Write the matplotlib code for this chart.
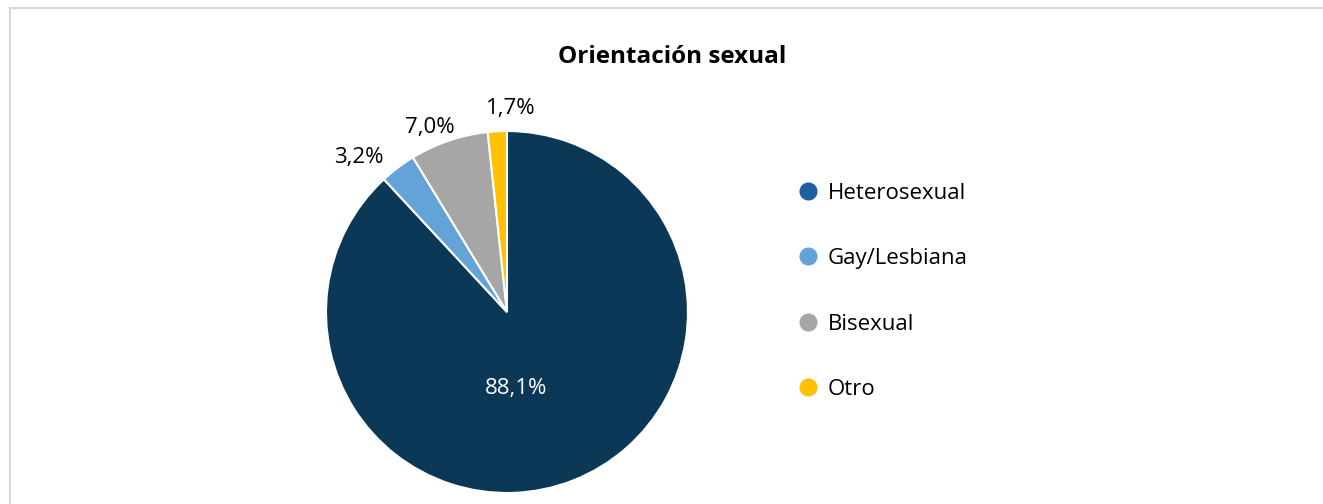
import matplotlib.pyplot as plt
from matplotlib.lines import Line2D
from matplotlib.patches import Rectangle

plt.rcParams['font.family'] = ['Open Sans', 'DejaVu Sans']

categories = ['Heterosexual', 'Gay/Lesbiana', 'Bisexual', 'Otro']
values = [88.1, 3.2, 7.0, 1.7]
labels = ['88,1%', '3,2%', '7,0%', '1,7%']
colors = ['#0c3857', '#63a3d8', '#a6a6a6', '#ffc000']
legend_colors = ['#1f5fa0', '#63a3d8', '#a6a6a6', '#ffc000']

# label positions in pie data units (radius 1)
label_pos = [(0.05, -0.425), (-0.818, 0.856), (-0.425, 1.022), (0.022, 1.127)]
label_colors = ['white', 'black', 'black', 'black']

fig = plt.figure(figsize=(13.23, 5.04), dpi=100)

# light border of the chart area
fig.patches.append(Rectangle((10 / 1323, -0.1), 1.0, 0.984 + 0.1,
                             transform=fig.transFigure, fill=False,
                             edgecolor='#d9d9d9', linewidth=1.5))

ax = fig.add_axes([0.2464, 0.0218, 0.2736, 0.7183])
ax.pie(values, colors=colors, startangle=90, counterclock=False,
       wedgeprops={'edgecolor': 'white', 'linewidth': 1.5})
ax.set_xlim(-1, 1)
ax.set_ylim(-1, 1)
ax.set_aspect('equal')
ax.axis('off')

for (x, y), t, c in zip(label_pos, labels, label_colors):
    ax.text(x, y, t, ha='center', va='center', fontsize=16, color=c, clip_on=False)

fig.text(0.508, 0.887, 'Orientación sexual', ha='center', va='center',
         fontsize=17.5, fontweight='bold')

handles = [Line2D([], [], marker='o', linestyle='none', markersize=12,
                  markerfacecolor=c, markeredgecolor=c) for c in legend_colors]
fig.legend(handles, categories, loc='upper left', bbox_to_anchor=(0.5965, 0.655),
           frameon=False, fontsize=16, labelspacing=2.0, handletextpad=0.45,
           handlelength=0.9, borderaxespad=0)

plt.savefig('out.png', dpi=100)
